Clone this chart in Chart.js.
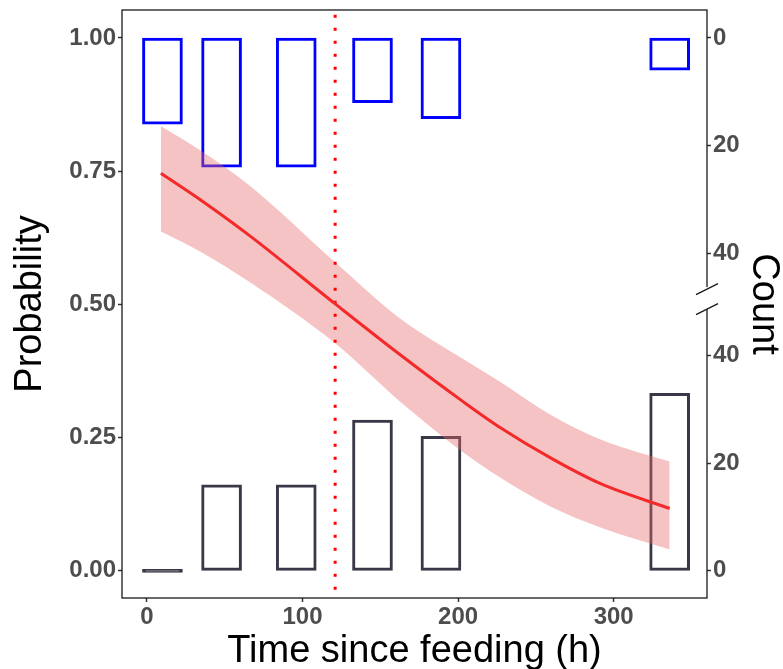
<!DOCTYPE html>
<html lang="en">

<head>
    <meta charset="UTF-8">
    <meta name="viewport" content="width=device-width, initial-scale=1.0">
    <script src="https://cdn.jsdelivr.net/npm/chart.js"></script>
    <title>Probability vs time since feeding</title>
    <style>
        body { margin: 0; background: white; }
        .graph { width: 783px; height: 669px; }
    </style>
</head>

<body>
    <div class="graph">
        <canvas id="myChart"></canvas>
    </div>
</body>

</html>

<script>
    // fitted curve and its confidence band (x in hours)
    var curveX = [9, 35, 66, 121, 163, 203, 227, 260, 292, 336]
    var curveFit = [0.746, 0.695, 0.629, 0.501, 0.405, 0.318, 0.269, 0.211, 0.163, 0.117]
    var curveUpper = [0.835, 0.788, 0.723, 0.579, 0.473, 0.398, 0.355, 0.292, 0.246, 0.205]
    var curveLower = [0.637, 0.598, 0.542, 0.427, 0.317, 0.223, 0.175, 0.120, 0.081, 0.040]

    // histogram bins: counts of 1s (hanging from the top) and 0s (from the bottom)
    var binX = [10, 48, 96, 145, 189, 336]
    var countOnes = [16, 24, 24, 12, 15, 6]
    var countZeros = [0, 16, 16, 28, 25, 33]

    // vertical reference line
    var feedLine = 121

    // axis ticks
    var probTicks = [0, 0.25, 0.5, 0.75, 1]
    var timeTicks = [0, 100, 200, 300]
    var countTicks = [0, 20, 40]

    // one count on the right axis, in probability units
    var countUnit = 0.0101
    var axisBreak = 0.51

    var tickFont = { family: 'Liberation Sans, Arial, sans-serif', size: 24, weight: 'bold' }
    var titleFont = { family: 'Liberation Sans, Arial, sans-serif', size: 38, lineHeight: 1 }
    var xTitleFont = { family: 'Liberation Sans, Arial, sans-serif', size: 38, lineHeight: 0.9 }
    var tickColor = '#4D4D4D'
    var barDark = '#383848'

    function pontos(xs, ys) {
        let out = []
        for (let i = 0; i < xs.length; i++) {
            out.push({ x: xs[i], y: ys[i] })
        }
        return out
    }

    // vertical axes: no extra room for half labels, the panel starts right at the padding
    function semPadding(axis) {
        axis.paddingTop = 0
        axis.paddingBottom = 0
    }

    let topBars = binX.map((x, i) => ({ x: x, y: [1 - countOnes[i] * countUnit, 1] }))
    let bottomBars = binX.map((x, i) => ({ x: x, y: countZeros[i] * countUnit }))

    // count axis: 0,20,40 going down from the top, 40,20,0 going down to the bottom
    let countValues = []
    let countLabels = []
    countTicks.forEach(t => { countValues.push(1 - t * countUnit); countLabels.push(String(t)) })
    countTicks.slice().reverse().forEach(t => { countValues.push(t * countUnit); countLabels.push(String(t)) })

    // panel frame and the break mark on the count axis
    const framePlugin = {
        id: 'frame',
        afterDraw(chart) {
            const ctx = chart.ctx
            const a = chart.chartArea
            const yb = chart.scales.y.getPixelForValue(axisBreak)
            ctx.save()
            ctx.strokeStyle = '#1a1a1a'
            ctx.lineWidth = 1.3
            ctx.strokeRect(a.left, a.top, a.right - a.left, a.bottom - a.top)
            // gap in the axis line with two slashes
            ctx.fillStyle = 'white'
            ctx.fillRect(a.right - 2, yb - 12, 4, 22)
            ctx.beginPath()
            ctx.moveTo(a.right - 11, yb - 4.5)
            ctx.lineTo(a.right + 11, yb - 15.5)
            ctx.moveTo(a.right - 11, yb + 15.5)
            ctx.lineTo(a.right + 11, yb + 4.5)
            ctx.stroke()
            ctx.restore()
        }
    }

    const config = {
        type: 'bar',
        data: {
            datasets: [
                {
                    type: 'line', label: 'fit', data: pontos(curveX, curveFit), order: 0,
                    borderColor: '#F42A2A', borderWidth: 3, pointRadius: 0,
                    cubicInterpolationMode: 'monotone', fill: false
                },
                {
                    type: 'line', label: 'feeding', data: [{ x: feedLine, y: -0.06 }, { x: feedLine, y: 1.06 }], order: 1,
                    borderColor: '#FF0000', borderWidth: 3, borderDash: [3, 10], pointRadius: 0, fill: false
                },
                {
                    type: 'line', label: 'upper', data: pontos(curveX, curveUpper), order: 2,
                    borderWidth: 0, pointRadius: 0, cubicInterpolationMode: 'monotone',
                    fill: '+1', backgroundColor: 'rgba(230, 105, 105, 0.4)'
                },
                {
                    type: 'line', label: 'lower', data: pontos(curveX, curveLower), order: 3,
                    borderWidth: 0, pointRadius: 0, cubicInterpolationMode: 'monotone', fill: false
                },
                {
                    label: 'ones', data: topBars, order: 4, grouped: false, barThickness: 40,
                    backgroundColor: 'white', borderColor: '#0000FF', borderWidth: 3, borderSkipped: false
                },
                {
                    label: 'zeros', data: bottomBars, order: 5, grouped: false, barThickness: 40, minBarLength: 3,
                    backgroundColor: ctx => countZeros[ctx.dataIndex] === 0 ? barDark : 'white',
                    borderColor: barDark, borderWidth: 3, borderSkipped: false
                }
            ]
        },
        options: {
            responsive: true,
            maintainAspectRatio: false,
            animation: false,
            layout: { padding: { top: 10, left: 0, right: 0, bottom: 0 } },
            plugins: { legend: { display: false }, tooltip: { enabled: false } },
            scales: {
                x: {
                    type: 'linear', min: -16, max: 360, offset: false,
                    afterBuildTicks: axis => { axis.ticks = timeTicks.map(v => ({ value: v })) },
                    afterFit: axis => { axis.height = 71 },
                    grid: { drawOnChartArea: false, offset: false, tickLength: 4, color: '#333', tickWidth: 1.5 },
                    border: { display: false },
                    ticks: { font: tickFont, color: tickColor, padding: 1, maxRotation: 0 },
                    title: { display: true, text: 'Time since feeding (h)', font: xTitleFont, color: 'black', padding: { top: 0, bottom: 0 } }
                },
                y: {
                    type: 'linear', position: 'left', min: -0.051, max: 1.0525,
                    afterBuildTicks: axis => { axis.ticks = probTicks.map(v => ({ value: v })) },
                    afterFit: axis => { axis.width = 122; semPadding(axis) },
                    grid: { drawOnChartArea: false, tickLength: 4, color: '#333', tickWidth: 1.5 },
                    border: { display: false },
                    ticks: { font: tickFont, color: tickColor, padding: 2, callback: v => v.toFixed(2) },
                    title: { display: true, text: 'Probability', font: titleFont, color: 'black', padding: { top: 12, bottom: 0 } }
                },
                count: {
                    type: 'linear', position: 'right', min: -0.051, max: 1.0525,
                    afterBuildTicks: axis => { axis.ticks = countValues.map(v => ({ value: v })) },
                    afterFit: axis => { axis.width = 76; semPadding(axis) },
                    grid: { drawOnChartArea: false, tickLength: 4, color: '#333', tickWidth: 1.5 },
                    border: { display: false },
                    ticks: { font: tickFont, color: tickColor, padding: 2, callback: (v, i) => countLabels[i] },
                    title: { display: true, text: 'Count', font: titleFont, color: 'black', padding: { top: 1, bottom: 0 } }
                }
            }
        },
        plugins: [framePlugin]
    };

    let myChart = new Chart(
        document.getElementById('myChart'),
        config
    );
</script>
